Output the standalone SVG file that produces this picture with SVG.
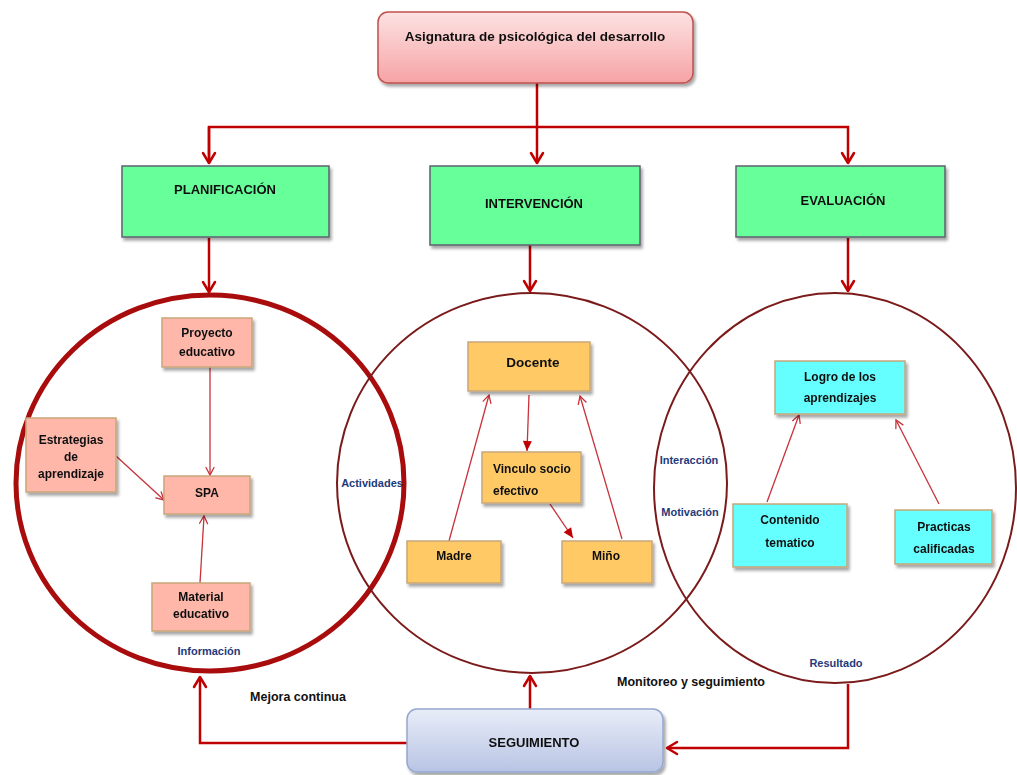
<svg xmlns="http://www.w3.org/2000/svg" width="1017" height="775" viewBox="0 0 1017 775">
<style>
text{font-family:"Liberation Sans",Arial,sans-serif;font-weight:bold;fill:#111;text-anchor:middle}
.blue{fill:#1f3a7a;font-size:11px}
.n{font-size:12px}
.h{font-size:13px}
.plain{font-size:12.5px}
.conn{fill:none;stroke:#c00000;stroke-width:2.5}
.sm{fill:none;stroke:#c8323a;stroke-width:1.3}
.pink{fill:#ffb7aa;stroke:#c8a67a;stroke-width:1.5}
.org{fill:#ffc966;stroke:#c8a67a;stroke-width:1.5}
.cyan{fill:#66ffff;stroke:#c8a67a;stroke-width:1.5}
.green{fill:#66ff99;stroke:#5f6070;stroke-width:1.5}
</style>
<defs>
<filter id="sh" x="-10%" y="-10%" width="130%" height="140%">
<feDropShadow dx="2" dy="3" stdDeviation="1.8" flood-color="#000" flood-opacity="0.35"/>
</filter>
<linearGradient id="gPink" x1="0" y1="0" x2="0" y2="1">
<stop offset="0" stop-color="#fde2e2"/><stop offset="1" stop-color="#f6a3a5"/>
</linearGradient>
<linearGradient id="gBlue" x1="0" y1="0" x2="0" y2="1">
<stop offset="0" stop-color="#e9edf8"/><stop offset="1" stop-color="#b8c4e4"/>
</linearGradient>
<marker id="big" markerUnits="userSpaceOnUse" viewBox="0 0 16 16" markerWidth="16" markerHeight="16" refX="13" refY="8" orient="auto">
<path d="M3,2 L13,8 L3,14" fill="none" stroke="#c00000" stroke-width="2.5" stroke-linecap="round" stroke-linejoin="round"/>
</marker>
<marker id="open" markerUnits="userSpaceOnUse" viewBox="0 0 12 12" markerWidth="12" markerHeight="12" refX="10.5" refY="6" orient="auto">
<path d="M3,2 L10.5,6 L3,10" fill="none" stroke="#c8323a" stroke-width="1.3" stroke-linecap="round"/>
</marker>
<marker id="fill" markerUnits="userSpaceOnUse" viewBox="0 0 12 12" markerWidth="12" markerHeight="12" refX="11" refY="6" orient="auto">
<path d="M1,1.5 L11,6 L1,10.5 Z" fill="#c00000"/>
</marker>
</defs>
<rect width="1017" height="775" fill="#fff"/>

<g id="circles">
<ellipse cx="210" cy="483" rx="194" ry="188" fill="none" stroke="#a80c0c" stroke-width="5"/>
<ellipse cx="532" cy="483" rx="195" ry="190" fill="none" stroke="#7b1a1a" stroke-width="2"/>
<ellipse cx="835" cy="488" rx="181" ry="195" fill="none" stroke="#7b1a1a" stroke-width="2"/>
</g>

<g id="connectors">
<path class="conn" d="M537,83 V163" marker-end="url(#big)"/>
<path class="conn" d="M209,163 V127 H848 V163" marker-end="url(#big)"/>
<path class="conn" d="M209,127 V163" marker-end="url(#big)"/>
<path class="conn" d="M209,238 V292" marker-end="url(#big)"/>
<path class="conn" d="M530,245 V291" marker-end="url(#big)"/>
<path class="conn" d="M848,238 V291" marker-end="url(#big)"/>
<path class="conn" d="M407,743 H200 V677" marker-end="url(#big)"/>
<path class="conn" d="M530,709 V676" marker-end="url(#big)"/>
<path class="conn" d="M848,684 V748 H667" marker-end="url(#big)"/>
<path class="sm" d="M210,367 V475" marker-end="url(#open)"/>
<path class="sm" d="M116,456 L164,500" marker-end="url(#open)"/>
<path class="sm" d="M200,583 L204,516" marker-end="url(#open)"/>
<path class="sm" d="M529,395 L527,451" marker-end="url(#fill)"/>
<path class="sm" d="M550,504 L573,538" marker-end="url(#fill)"/>
<path class="sm" d="M449,541 L489,395" marker-end="url(#open)"/>
<path class="sm" d="M622,539 L580,396" marker-end="url(#open)"/>
<path class="sm" d="M767,502 L799,415" marker-end="url(#open)"/>
<path class="sm" d="M939,504 L896,420" marker-end="url(#open)"/>
</g>

<g id="title" filter="url(#sh)">
<rect x="378" y="12" width="315" height="71" rx="10" fill="url(#gPink)" stroke="#c0504d" stroke-width="1.5"/>
<text x="535" y="41" style="font-size:13.5px">Asignatura de psicológica del desarrollo</text>
</g>

<g id="planificacion" filter="url(#sh)">
<rect class="green" x="122" y="166" width="207" height="71"/>
<text class="h" x="225" y="194">PLANIFICACIÓN</text>
</g>
<g id="intervencion" filter="url(#sh)">
<rect class="green" x="430" y="166" width="210" height="79"/>
<text class="h" x="534" y="208">INTERVENCIÓN</text>
</g>
<g id="evaluacion" filter="url(#sh)">
<rect class="green" x="736" y="166" width="209" height="71"/>
<text class="h" x="843" y="205">EVALUACIÓN</text>
</g>

<g id="proyecto" filter="url(#sh)">
<rect class="pink" x="162" y="318" width="90" height="49"/>
<text class="n" x="207" y="337">Proyecto</text>
<text class="n" x="207" y="356">educativo</text>
</g>
<g id="estrategias" filter="url(#sh)">
<rect class="pink" x="26" y="418" width="90" height="74"/>
<text class="n" x="71" y="444">Estrategias</text>
<text class="n" x="71" y="461">de</text>
<text class="n" x="71" y="478">aprendizaje</text>
</g>
<g id="spa" filter="url(#sh)">
<rect class="pink" x="164" y="476" width="86" height="38"/>
<text class="n" x="207" y="497">SPA</text>
</g>
<g id="material" filter="url(#sh)">
<rect class="pink" x="152" y="583" width="98" height="48"/>
<text class="n" x="201" y="601">Material</text>
<text class="n" x="201" y="618">educativo</text>
</g>

<g id="docente" filter="url(#sh)">
<rect class="org" x="468" y="342" width="122" height="49"/>
<text x="533" y="367" style="font-size:13.5px">Docente</text>
</g>
<g id="vinculo" filter="url(#sh)">
<rect class="org" x="482" y="452" width="99" height="51"/>
<text class="n" x="493" y="473" style="text-anchor:start">Vinculo socio</text>
<text class="n" x="493" y="495" style="text-anchor:start">efectivo</text>
</g>
<g id="madre" filter="url(#sh)">
<rect class="org" x="407" y="541" width="94" height="42"/>
<text class="n" x="454" y="560">Madre</text>
</g>
<g id="mino" filter="url(#sh)">
<rect class="org" x="562" y="541" width="90" height="42"/>
<text class="n" x="606" y="560">Miño</text>
</g>

<g id="logro" filter="url(#sh)">
<rect class="cyan" x="775" y="361" width="130" height="53"/>
<text class="n" x="840" y="381">Logro de los</text>
<text class="n" x="840" y="402">aprendizajes</text>
</g>
<g id="contenido" filter="url(#sh)">
<rect class="cyan" x="733" y="504" width="114" height="63"/>
<text class="n" x="790" y="524">Contenido</text>
<text class="n" x="790" y="547">tematico</text>
</g>
<g id="practicas" filter="url(#sh)">
<rect class="cyan" x="895" y="510" width="97" height="54"/>
<text class="n" x="944" y="531">Practicas</text>
<text class="n" x="944" y="553">calificadas</text>
</g>

<g id="seguimiento" filter="url(#sh)">
<rect x="407" y="709" width="256" height="63" rx="10" fill="url(#gBlue)" stroke="#95a8cf" stroke-width="1.5"/>
<text class="h" x="534" y="747">SEGUIMIENTO</text>
</g>

<g id="labels">
<text class="blue" x="209" y="655">Información</text>
<text class="blue" x="372" y="487">Actividades</text>
<text class="blue" x="689" y="464">Interacción</text>
<text class="blue" x="690" y="516">Motivación</text>
<text class="blue" x="836" y="667">Resultado</text>
<text class="plain" x="691" y="686">Monitoreo y seguimiento</text>
<text class="plain" x="298" y="701">Mejora continua</text>
</g>
</svg>
